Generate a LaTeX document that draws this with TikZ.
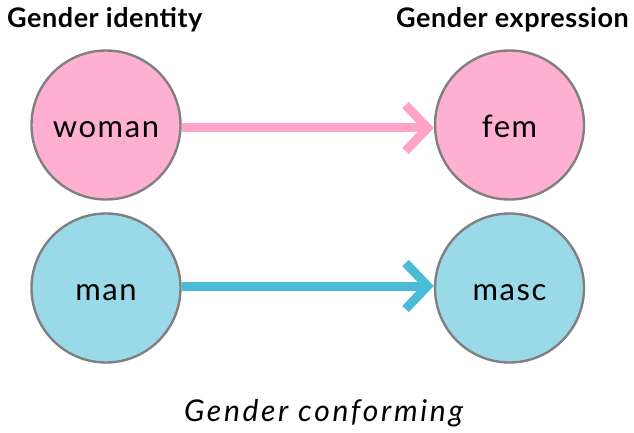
\documentclass[tikz,border=0pt]{standalone}
\usepackage{fontspec}
\setmainfont{Lato}
\usetikzlibrary{arrows.meta}
\definecolor{pinkfill}{HTML}{FFAFCF}
\definecolor{pinkline}{HTML}{FFA3C8}
\definecolor{bluefill}{HTML}{9AD9E8}
\definecolor{blueline}{HTML}{4BBCD6}
\definecolor{rimgray}{HTML}{808080}
\tikzset{
  genderdot/.style={circle, draw=rimgray, line width=2.4pt, minimum size=149pt,
    inner sep=0pt, text height=24.5pt, text depth=0pt,
    font=\fontsize{31}{33}\selectfont\addfontfeatures{LetterSpace=5}},
  heading/.style={font=\bfseries\fontsize{27}{30}\selectfont\addfontfeatures{LetterSpace=2},
    anchor=base west, inner sep=0pt},
  link/.style={line width=9pt, -{Straight Barb[length=22pt, width=46pt, line width=9pt]}}
}
\begin{document}
\begin{tikzpicture}[x=1pt, y=-1pt]
  \useasboundingbox (0,0) rectangle (634,433);
  \node[heading] (gi) at (7,28) {Gender identity};
  \node[heading] (ge) at (396,28) {Gender expression};
  \node[genderdot, fill=pinkfill] (woman) at (106,125) {woman};
  \node[genderdot, fill=pinkfill] (fem) at (509.5,125) {fem};
  \node[genderdot, fill=bluefill] (man) at (106,288) {man};
  \node[genderdot, fill=bluefill] (masc) at (509.5,288) {masc};
  \draw[link, draw=pinkline] ([yshift=-3pt]woman.east) -- ([yshift=-3pt]fem.west);
  \draw[link, draw=blueline] ([yshift=2pt]man.east) -- ([yshift=2pt]masc.west);
  \node[font=\itshape\fontsize{30}{33}\selectfont\addfontfeatures{LetterSpace=9},
    anchor=base, inner sep=0pt] (cap) at (323.5,421) {Gender conforming};
\end{tikzpicture}
\end{document}
